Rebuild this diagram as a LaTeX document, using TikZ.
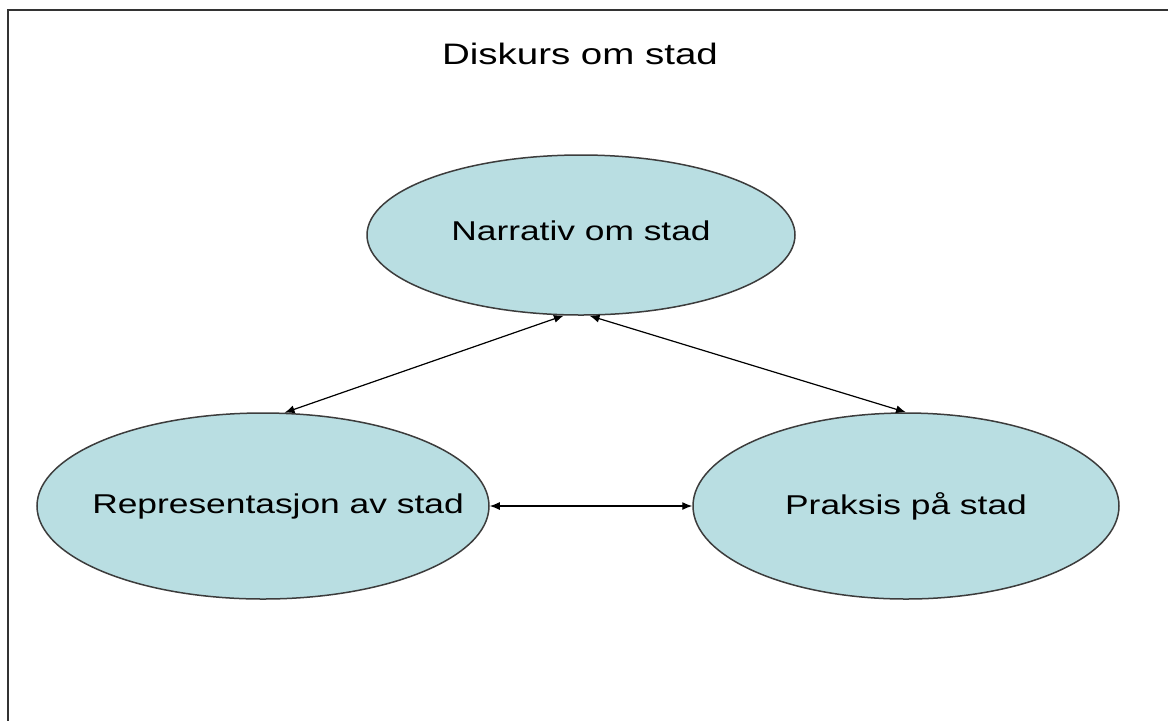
\documentclass[tikz,border=0pt]{standalone}
\usepackage{fontspec}
\setmainfont{Liberation Sans}[FakeStretch=1.3]
\usetikzlibrary{shapes.geometric,arrows.meta}
\definecolor{ellfill}{RGB}{185,222,226}
\definecolor{ellline}{RGB}{60,60,60}
\tikzset{
  ell/.style={ellipse, draw=ellline, line width=0.75pt, fill=ellfill, inner sep=0pt, font=\fontsize{13.6pt}{16pt}\selectfont},
  conn/.style={draw=black, line width=0.6pt, {Latex[length=5pt,width=4pt]}-{Latex[length=5pt,width=4pt]}},
}
\begin{document}
\begin{tikzpicture}[x=0.5pt,y=-0.5pt]
\useasboundingbox (0,0) rectangle (1168,720);
\clip (0,0) rectangle (1168,720);
\fill[white] (0,0) rectangle (1168,720);
\draw[line width=1.1pt, draw=black!80] (8,740) -- (8,10) -- (1190,10);
\node[font=\fontsize{14.8pt}{16pt}\selectfont] (title) at (580,54) {Diskurs om stad};
\node[ell, minimum width=214pt, minimum height=80pt] (n) at (581,235) {\makebox[0pt]{\raisebox{4.5pt}{Narrativ om stad}}};
\node[ell, minimum width=226pt, minimum height=93pt] (l) at (263,506) {\makebox[0pt]{\hspace*{15pt}Representasjon av stad}};
\node[ell, minimum width=213pt, minimum height=93pt] (r) at (906,506) {\makebox[0pt]{Praksis på stad}};
\draw[conn] (n.258.7) -- (l.77.9);
\draw[conn] (n.276.4) -- (r.90.6);
\draw[conn] (l.east) -- (r.west);
\end{tikzpicture}
\end{document}
